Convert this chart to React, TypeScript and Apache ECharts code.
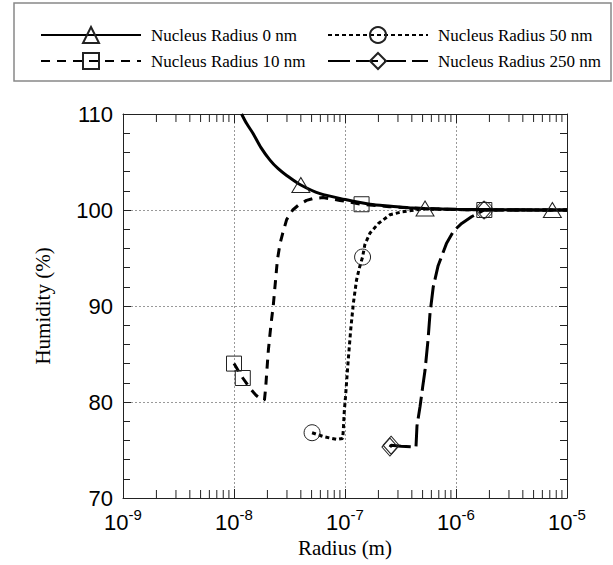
import React, { useEffect, useRef } from "react";
import * as echarts from "echarts";

const NAME_0 = "Nucleus Radius 0 nm";
const NAME_10 = "Nucleus Radius 10 nm";
const NAME_50 = "Nucleus Radius 50 nm";
const NAME_250 = "Nucleus Radius 250 nm";

// Nucleus radius 0 nm
const radius0 = [1.17e-8, 1.3e-8, 1.48e-8, 1.75e-8, 2.11e-8, 2.5e-8, 2.98e-8, 4.0e-8, 5.96e-8, 1.0e-7, 1.68e-7, 2.6e-7, 4.1e-7, 5.26e-7, 1.0e-6, 2.0e-6, 4.0e-6, 7.38e-6, 1.0e-5];
const humidity0 = [110, 109.0, 108.0, 106.5, 105.2, 104.3, 103.6, 102.6, 101.7, 101.1, 100.6, 100.4, 100.2, 100.15, 100.08, 100.04, 100.02, 100.0, 100.0];
const markers0 = [7, 13, 17];

// Nucleus radius 10 nm
const radius10 = [1.0e-8, 1.1e-8, 1.2e-8, 1.4e-8, 1.58e-8, 1.75e-8, 1.88e-8, 1.93e-8, 1.97e-8, 2.04e-8, 2.15e-8, 2.26e-8, 2.36e-8, 2.46e-8, 2.6e-8, 2.75e-8, 2.98e-8, 3.38e-8, 3.8e-8, 4.5e-8, 5.18e-8, 6.34e-8, 9.0e-8, 1.41e-7, 2.5e-7, 5.0e-7, 1.0e-6, 1.8e-6, 1.0e-5];
const humidity10 = [84.0, 83.2, 82.5, 81.4, 80.7, 80.3, 80.2, 81.5, 83.0, 85.4, 88.0, 90.1, 92.5, 94.8, 96.5, 97.6, 99.0, 100.0, 100.5, 101.0, 101.2, 101.3, 101.0, 100.6, 100.35, 100.15, 100.05, 100.0, 100.0];
const markers10 = [0, 2, 23, 27];

// Nucleus radius 50 nm
const radius50 = [5.05e-8, 6.38e-8, 8.42e-8, 9.53e-8, 9.66e-8, 9.85e-8, 1.01e-7, 1.04e-7, 1.07e-7, 1.125e-7, 1.19e-7, 1.27e-7, 1.35e-7, 1.44e-7, 1.51e-7, 1.68e-7, 2.0e-7, 2.54e-7, 3.24e-7, 5.0e-7, 1.0e-6, 1.8e-6, 1.0e-5];
const humidity50 = [76.8, 76.4, 76.1, 76.2, 77.1, 79.0, 80.5, 82.5, 84.4, 87.5, 90.3, 92.7, 94.0, 95.1, 96.4, 97.6, 98.6, 99.5, 99.8, 100.1, 100.05, 100.0, 100.0];
const markers50 = [0, 13, 21];

// Nucleus radius 250 nm
const radius250 = [2.54e-7, 2.6e-7, 3.2e-7, 4.36e-7, 4.45e-7, 4.74e-7, 5.0e-7, 5.26e-7, 5.6e-7, 5.83e-7, 6.24e-7, 6.9e-7, 8.2e-7, 9.5e-7, 1.125e-6, 1.38e-6, 1.79e-6, 3.0e-6, 1.0e-5];
const humidity250 = [75.3, 75.5, 75.4, 75.3, 77.5, 79.5, 81.5, 83.3, 86.5, 89.2, 92.0, 94.2, 96.5, 97.8, 98.6, 99.3, 100.0, 100.0, 100.0];
const markers250 = [0, 1, 16];

// Axis ticks
const xMin = 1e-9;
const xMax = 1e-5;
const yMin = 70;
const yMax = 110;
const yInterval = 10;
const minorDecades = [-9, -8, -7, -6];
const minorMultipliers = [2, 3, 4, 5, 6, 7, 8, 9];

const FONT_SERIF = "'Liberation Serif', 'Times New Roman', serif";
const FONT_SANS = "'Liberation Sans', Arial, Helvetica, sans-serif";

function buildData(radius: number[], humidity: number[], markers: number[]) {
  return radius.map((r, i) => {
    const item: any = { value: [r, humidity[i]] };
    if (markers.indexOf(i) < 0) item.symbol = "none";
    return item;
  });
}

function lineSeries(
  name: string,
  data: any[],
  symbol: string,
  symbolSize: number | number[],
  dash: any,
  z: number,
  smooth: number | boolean
) {
  return {
    name,
    type: "line",
    data,
    symbol,
    symbolSize,
    showSymbol: true,
    showAllSymbol: true,
    smooth,
    z,
    lineStyle: { color: "#000", width: 3, type: dash, cap: "butt" },
    itemStyle: { color: "rgba(0,0,0,0)", borderColor: "#222", borderWidth: 1 },
    emphasis: { disabled: true },
  };
}

export default function App() {
  const ref = useRef<HTMLDivElement>(null);

  useEffect(() => {
    if (!ref.current) return;
    const chart = echarts.init(ref.current, undefined, { renderer: "svg" });

    const minorTicks: number[][] = [];
    minorDecades.forEach((d) => {
      minorMultipliers.forEach((m) => {
        minorTicks.push([m * Math.pow(10, d), yMin]);
      });
    });

    const axisLineStyle = { color: "#222", width: 1 };
    const splitLineStyle = { color: "#999", width: 1, type: [2, 2] };

    const legendCommon = {
      orient: "vertical",
      top: 21,
      itemWidth: 100,
      itemHeight: 20,
      itemGap: 8,
      selectedMode: false,
      textStyle: {
        fontFamily: FONT_SERIF,
        fontSize: 17,
        color: "#000",
        padding: [0, 0, 0, 5],
      },
    };

    const option: any = {
      animation: false,
      backgroundColor: "#fff",
      graphic: [
        {
          type: "rect",
          shape: { x: 14, y: 3, width: 597, height: 78 },
          style: { fill: "none", stroke: "#888", lineWidth: 1.5 },
          silent: true,
        },
      ],
      legend: [
        { ...legendCommon, left: 35, data: [NAME_0, NAME_10] },
        { ...legendCommon, left: 322, data: [NAME_50, NAME_250] },
      ],
      grid: {
        left: 123,
        right: 46,
        top: 114,
        bottom: 67,
        containLabel: false,
        outerBoundsMode: "none",
      },
      xAxis: [
        {
          type: "log",
          logBase: 10,
          min: xMin,
          max: xMax,
          position: "bottom",
          name: "Radius (m)",
          nameLocation: "middle",
          nameGap: 36,
          nameTextStyle: { fontFamily: FONT_SERIF, fontSize: 21, color: "#000" },
          axisLine: { show: true, onZero: false, lineStyle: axisLineStyle },
          axisTick: { show: true, inside: true, length: 9, lineStyle: axisLineStyle },
          minorTick: { show: false },
          splitLine: { show: true, lineStyle: splitLineStyle },
          axisLabel: {
            margin: 9,
            color: "#000",
            formatter: (v: number) => {
              const e = Math.round(Math.log10(v));
              return "{b|10}{s|" + e + "}";
            },
            rich: {
              b: { fontFamily: FONT_SANS, fontSize: 22, color: "#000", lineHeight: 26, verticalAlign: "bottom" },
              s: { fontFamily: FONT_SANS, fontSize: 15, color: "#000", lineHeight: 14, verticalAlign: "top" },
            },
          },
        },
        {
          type: "log",
          logBase: 10,
          min: xMin,
          max: xMax,
          position: "top",
          axisLine: { show: true, onZero: false, lineStyle: axisLineStyle },
          axisTick: { show: true, inside: true, length: 9, lineStyle: axisLineStyle },
          axisLabel: { show: false },
          splitLine: { show: false },
        },
      ],
      yAxis: [
        {
          type: "value",
          min: yMin,
          max: yMax,
          interval: yInterval,
          position: "left",
          name: "Humidity (%)",
          nameLocation: "middle",
          nameGap: 70,
          nameRotate: 90,
          nameTextStyle: { fontFamily: FONT_SERIF, fontSize: 21, color: "#000" },
          axisLine: { show: true, onZero: false, lineStyle: axisLineStyle },
          axisTick: { show: true, inside: true, length: 8, lineStyle: axisLineStyle },
          minorTick: { show: true, splitNumber: 5, length: 7, lineStyle: axisLineStyle },
          splitLine: { show: true, lineStyle: splitLineStyle },
          axisLabel: { margin: 10, fontFamily: FONT_SANS, fontSize: 22, color: "#000" },
        },
        {
          type: "value",
          min: yMin,
          max: yMax,
          interval: yInterval,
          position: "right",
          axisLine: { show: true, onZero: false, lineStyle: axisLineStyle },
          axisTick: { show: true, inside: true, length: 8, lineStyle: axisLineStyle },
          minorTick: { show: true, splitNumber: 5, length: 7, lineStyle: axisLineStyle },
          splitLine: { show: false },
          axisLabel: { show: false },
        },
      ],
      series: [
        {
          type: "custom",
          name: "minorTicks",
          xAxisIndex: 0,
          yAxisIndex: 0,
          silent: true,
          z: 1,
          data: minorTicks,
          renderItem: (params: any, api: any) => {
            const x = api.value(0);
            const pb = api.coord([x, yMin]);
            const pt = api.coord([x, yMax]);
            const style = { stroke: "#222", lineWidth: 1 };
            return {
              type: "group",
              children: [
                { type: "line", shape: { x1: pb[0], y1: pb[1], x2: pb[0], y2: pb[1] - 8 }, style },
                { type: "line", shape: { x1: pt[0], y1: pt[1], x2: pt[0], y2: pt[1] + 8 }, style },
              ],
            };
          },
        },
        lineSeries(NAME_10, buildData(radius10, humidity10, markers10), "rect", 15, [9, 7], 3, false),
        lineSeries(NAME_50, buildData(radius50, humidity50, markers50), "circle", 16, [4, 3], 3, false),
        lineSeries(NAME_250, buildData(radius250, humidity250, markers250), "diamond", [16, 18], [22, 6], 3, false),
        lineSeries(NAME_0, buildData(radius0, humidity0, markers0), "triangle", [18, 15], "solid", 4, 0.3),
      ],
    };

    chart.setOption(option);
    return () => chart.dispose();
  }, []);

  return (
    <div
      ref={ref}
      style={{ position: "absolute", left: 0, top: 0, width: 613, height: 565 }}
    />
  );
}
